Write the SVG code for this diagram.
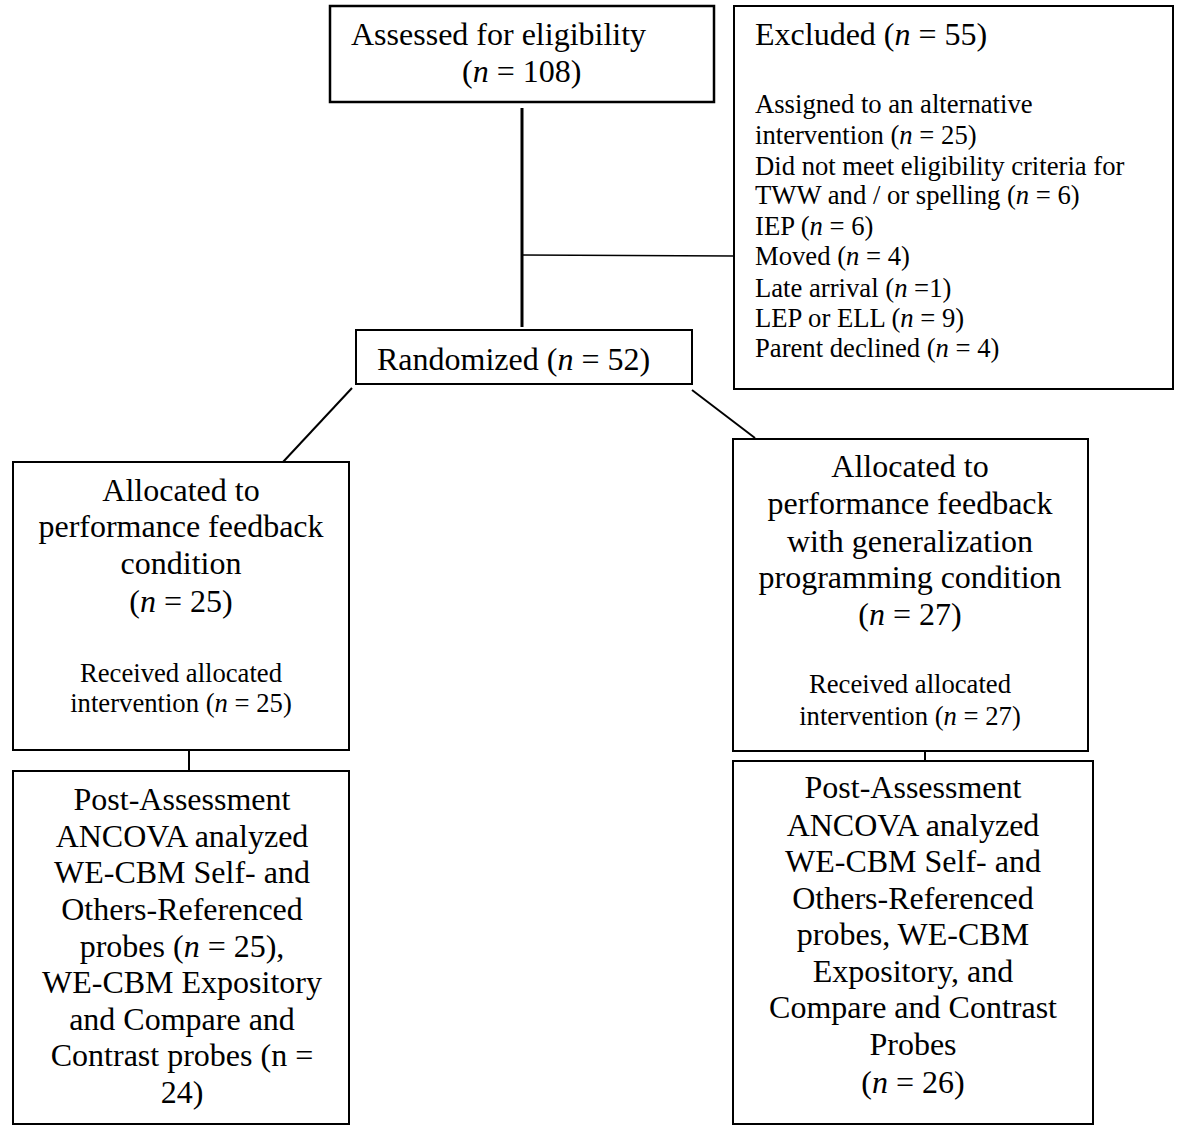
<svg xmlns="http://www.w3.org/2000/svg" width="1178" height="1127" viewBox="0 0 1178 1127">
<style>
.box{fill:#fff;stroke:#000;stroke-width:2}
.t{font-family:"Liberation Serif","Times New Roman",serif;font-size:32px;fill:#000}
.s{font-family:"Liberation Serif","Times New Roman",serif;font-size:26.67px;fill:#000}
.c{text-anchor:middle}
.i{font-style:italic}
.ln{stroke:#000;stroke-width:2;fill:none}
</style>
<rect width="1178" height="1127" fill="#fff"/>
<g id="connectors">
<line class="ln" x1="522" y1="108" x2="522" y2="327" style="stroke-width:3"/>
<line class="ln" x1="522" y1="255" x2="734" y2="256" style="stroke-width:1.5"/>
<line class="ln" x1="352" y1="388" x2="283" y2="462"/>
<line class="ln" x1="692" y1="390" x2="755" y2="438"/>
<line class="ln" x1="189" y1="750" x2="189" y2="774"/>
<line class="ln" x1="925" y1="751" x2="925" y2="774"/>
</g>
<g id="assessed">
<rect class="box" x="330" y="6" width="384" height="96" style="stroke-width:2.5"/>
<text class="t" x="351" y="45">Assessed for eligibility</text>
<text class="t" x="462" y="82">(<tspan class="i">n</tspan> = 108)</text>
</g>
<g id="excluded">
<rect class="box" x="734" y="6" width="439" height="383"/>
<text class="t" x="755" y="45">Excluded (<tspan class="i">n</tspan> = 55)</text>
<text class="s" x="755" y="113">Assigned to an alternative</text>
<text class="s" x="755" y="144">intervention (<tspan class="i">n</tspan> = 25)</text>
<text class="s" x="755" y="175">Did not meet eligibility criteria for</text>
<text class="s" x="755" y="204">TWW and / or spelling (<tspan class="i">n</tspan> = 6)</text>
<text class="s" x="755" y="235">IEP (<tspan class="i">n</tspan> = 6)</text>
<text class="s" x="755" y="265">Moved (<tspan class="i">n</tspan> = 4)</text>
<text class="s" x="755" y="297">Late arrival (<tspan class="i">n</tspan> =1)</text>
<text class="s" x="755" y="327">LEP or ELL (<tspan class="i">n</tspan> = 9)</text>
<text class="s" x="755" y="357">Parent declined (<tspan class="i">n</tspan> = 4)</text>
</g>
<g id="randomized">
<rect class="box" x="356" y="330" width="336" height="54"/>
<text class="t" x="377" y="370">Randomized (<tspan class="i">n</tspan> = 52)</text>
</g>
<g id="alloc-left">
<rect class="box" x="13" y="462" width="336" height="288"/>
<text class="t c" x="181" y="501">Allocated to</text>
<text class="t c" x="181" y="537">performance feedback</text>
<text class="t c" x="181" y="574">condition</text>
<text class="t c" x="181" y="612">(<tspan class="i">n</tspan> = 25)</text>
<text class="s c" x="181" y="682">Received allocated</text>
<text class="s c" x="181" y="712">intervention (<tspan class="i">n</tspan> = 25)</text>
</g>
<g id="alloc-right">
<rect class="box" x="733" y="439" width="355" height="312"/>
<text class="t c" x="910" y="477">Allocated to</text>
<text class="t c" x="910" y="514">performance feedback</text>
<text class="t c" x="910" y="552">with generalization</text>
<text class="t c" x="910" y="588">programming condition</text>
<text class="t c" x="910" y="625">(<tspan class="i">n</tspan> = 27)</text>
<text class="s c" x="910" y="693">Received allocated</text>
<text class="s c" x="910" y="725">intervention (<tspan class="i">n</tspan> = 27)</text>
</g>
<g id="post-left">
<rect class="box" x="13" y="771" width="336" height="353"/>
<text class="t c" x="182" y="810">Post-Assessment</text>
<text class="t c" x="182" y="847">ANCOVA analyzed</text>
<text class="t c" x="182" y="883">WE-CBM Self- and</text>
<text class="t c" x="182" y="920">Others-Referenced</text>
<text class="t c" x="182" y="957">probes (<tspan class="i">n</tspan> = 25),</text>
<text class="t c" x="182" y="993">WE-CBM Expository</text>
<text class="t c" x="182" y="1030">and Compare and</text>
<text class="t c" x="182" y="1066">Contrast probes (n =</text>
<text class="t c" x="182" y="1103">24)</text>
</g>
<g id="post-right">
<rect class="box" x="733" y="761" width="360" height="363"/>
<text class="t c" x="913" y="798">Post-Assessment</text>
<text class="t c" x="913" y="836">ANCOVA analyzed</text>
<text class="t c" x="913" y="872">WE-CBM Self- and</text>
<text class="t c" x="913" y="909">Others-Referenced</text>
<text class="t c" x="913" y="945">probes, WE-CBM</text>
<text class="t c" x="913" y="982">Expository, and</text>
<text class="t c" x="913" y="1018">Compare and Contrast</text>
<text class="t c" x="913" y="1055">Probes</text>
<text class="t c" x="913" y="1093">(<tspan class="i">n</tspan> = 26)</text>
</g>
</svg>
